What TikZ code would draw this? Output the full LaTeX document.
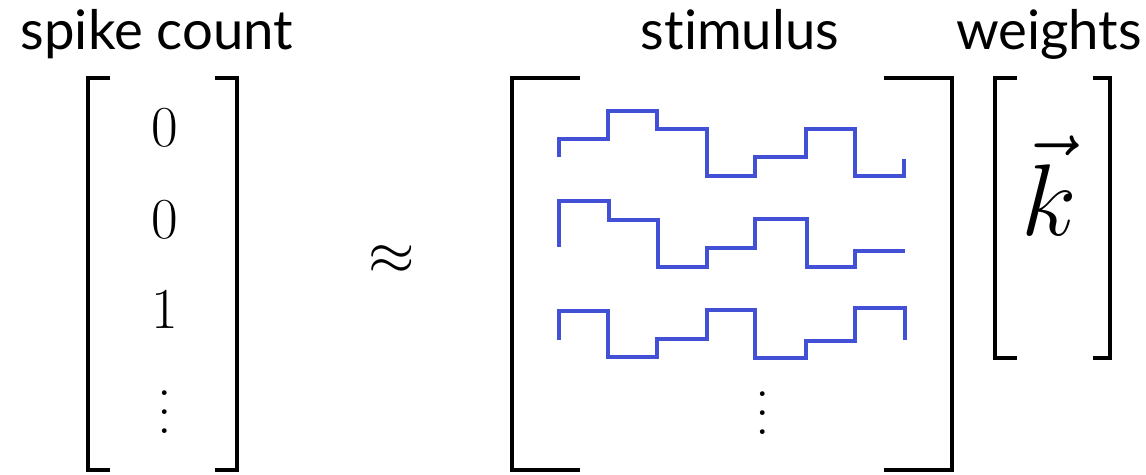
\RequirePackage{fix-cm}
\documentclass[tikz,border=0pt]{standalone}
\usepackage{amsmath}
\usepackage{fontspec}
\setsansfont[Ligatures={NoCommon,NoRare,NoDiscretionary}]{Lato}
\usepackage{tikz}

\definecolor{waveblue}{RGB}{66,80,214}
\newcommand{\tallvdots}{\vbox{\baselineskip=11pt\lineskiplimit=0pt\hbox{.}\hbox{.}\hbox{.}}}

\begin{document}
\begin{tikzpicture}[x=0.02cm, y=-0.02cm,
  lbl/.style={font=\sffamily\fontsize{31}{35}\selectfont, anchor=base, inner sep=0pt},
  num/.style={font=\fontsize{33}{37}\selectfont, inner sep=0pt},
  brk/.style={line width=2.5pt, line join=miter},
  sig/.style={draw=waveblue, line width=2.7pt, line join=miter}]
  \useasboundingbox (0,0) rectangle (1146,475);

  % headings
  \node[lbl] (spk) at (157,50) {spike count};
  \node[lbl] (stim) at (740,50) {stimulus};
  \node[lbl] (wts) at (1049,50) {weights};

  % spike count vector
  \draw[brk] (110,78) -- (88,78) -- (88,470) -- (110,470);
  \draw[brk] (215,78) -- (237,78) -- (237,470) -- (215,470);
  \node[num] (y1) at (165,128) {$0$};
  \node[num] (y2) at (165,220) {$0$};
  \node[num] (y3) at (165,310) {$1$};
  \node[num] (y4) at (165,412) {\tallvdots};

  \node[num, font=\fontsize{34}{38}\selectfont] (apx) at (392,260) {$\approx$};

  % stimulus matrix
  \draw[brk] (580,78) -- (512,78) -- (512,470) -- (580,470);
  \draw[brk] (884,78) -- (952,78) -- (952,470) -- (884,470);
  \draw[sig] (559,157) |- (608,139) |- (657,111) |- (707,129) |- (755,176)
    |- (806,157) |- (855,129) |- (904,176) -- (904,159);
  \draw[sig] (559,247) |- (609,201) |- (658,220) |- (707,267) |- (755,248)
    |- (807,219) |- (855,267) |- (905,251);
  \draw[sig] (559,340) |- (608,311) |- (657,357) |- (707,339) |- (755,310)
    |- (806,358) |- (855,341) |- (905,308) -- (905,340);
  \node[num] (x4) at (763,413) {\tallvdots};

  % weights
  \draw[brk] (1017,78) -- (995,78) -- (995,358) -- (1017,358);
  \draw[brk] (1093,78) -- (1110,78) -- (1110,358) -- (1093,358);
  \node[num, font=\fontsize{58}{62}\selectfont] (kv) at (1049,186) {$\vec{k}$};
\end{tikzpicture}
\end{document}
